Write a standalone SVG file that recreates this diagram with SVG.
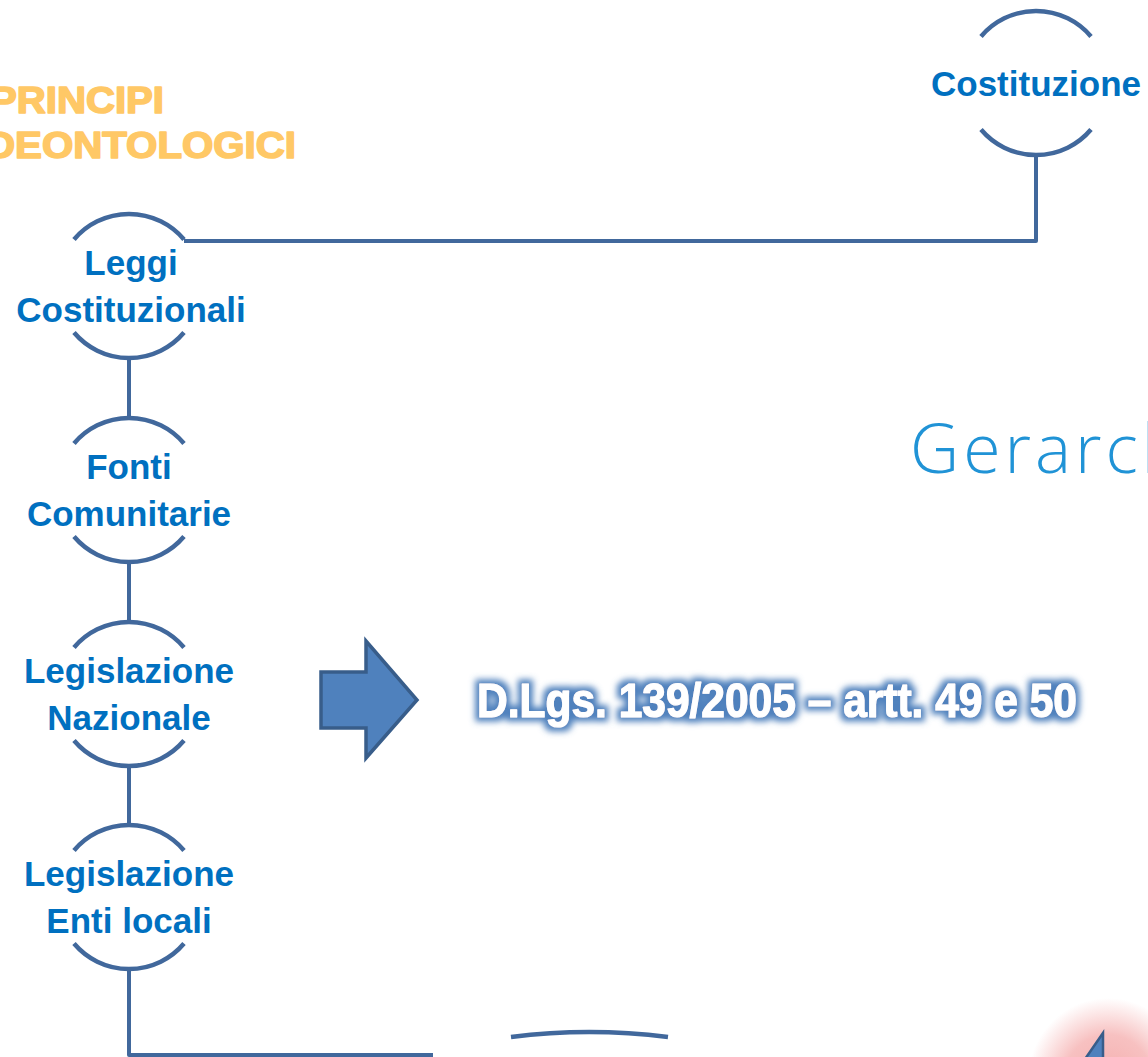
<svg xmlns="http://www.w3.org/2000/svg" width="1148" height="1057" viewBox="0 0 1148 1057">
<defs>
<style>
.arc{fill:none;stroke:#41689C;stroke-width:4.5;stroke-linecap:butt}
.conn{fill:none;stroke:#41689C;stroke-width:4;stroke-linejoin:round}
.lbl{font-family:"Liberation Sans",Arial,sans-serif;font-weight:bold;font-size:35px;fill:#0070C0;text-anchor:middle}
.title{font-family:"Liberation Sans",Arial,sans-serif;font-weight:bold;font-size:36px;fill:#FFC866;stroke:#FFC866;stroke-width:1.6;stroke-linejoin:round}
</style>
<filter id="glow" x="-5%" y="-60%" width="110%" height="220%">
<feMorphology in="SourceAlpha" operator="dilate" radius="3.5" result="d"/>
<feGaussianBlur in="d" stdDeviation="3" result="b"/>
<feFlood flood-color="#4F81BD"/>
<feComposite in2="b" operator="in" result="g"/>
<feMerge><feMergeNode in="g"/><feMergeNode in="SourceGraphic"/></feMerge>
</filter>
<radialGradient id="pink" cx="0.5" cy="0.5" r="0.5">
<stop offset="0" stop-color="#F29A9A" stop-opacity="0.8"/>
<stop offset="0.55" stop-color="#F4A6A6" stop-opacity="0.7"/>
<stop offset="1" stop-color="#F4A6A6" stop-opacity="0"/>
</radialGradient>
</defs>
<rect width="1148" height="1057" fill="#FFFFFF"/>

<g id="title">
<text class="title" x="-10" y="113" textLength="174" lengthAdjust="spacingAndGlyphs">PRINCIPI</text>
<text class="title" x="-14" y="158" textLength="310" lengthAdjust="spacingAndGlyphs">DEONTOLOGICI</text>
</g>

<g id="heading">
<text x="910" y="473" font-family="'Open Sans',Lato,sans-serif" font-weight="300" font-size="68" letter-spacing="4" fill="#2093D6">Gerarch</text>
</g>

<g id="connectors">
<path class="conn" d="M1036,155 V241 H184"/>
<path class="conn" d="M129,358 V418"/>
<path class="conn" d="M129,562 V622"/>
<path class="conn" d="M129,766 V825"/>
<path class="conn" d="M129,969 V1055 H433"/>
</g>

<g id="costituzione">
<path class="arc" d="M981,36.5 A72,72 0 0 1 1091,36.5"/>
<path class="arc" d="M981,129.5 A72,72 0 0 0 1091,129.5"/>
<text class="lbl" x="1036" y="96">Costituzione</text>
</g>

<g id="leggi-costituzionali">
<path class="arc" d="M74,239.5 A72,72 0 0 1 184,239.5"/>
<path class="arc" d="M74,332.5 A72,72 0 0 0 184,332.5"/>
<text class="lbl" x="131" y="275">Leggi</text>
<text class="lbl" x="131" y="322">Costituzionali</text>
</g>

<g id="fonti-comunitarie">
<path class="arc" d="M74,443.5 A72,72 0 0 1 184,443.5"/>
<path class="arc" d="M74,536.5 A72,72 0 0 0 184,536.5"/>
<text class="lbl" x="129" y="479">Fonti</text>
<text class="lbl" x="129" y="526">Comunitarie</text>
</g>

<g id="legislazione-nazionale">
<path class="arc" d="M74,647.5 A72,72 0 0 1 184,647.5"/>
<path class="arc" d="M74,740.5 A72,72 0 0 0 184,740.5"/>
<text class="lbl" x="129" y="683">Legislazione</text>
<text class="lbl" x="129" y="730">Nazionale</text>
</g>

<g id="legislazione-enti-locali">
<path class="arc" d="M74,850.5 A72,72 0 0 1 184,850.5"/>
<path class="arc" d="M74,943.5 A72,72 0 0 0 184,943.5"/>
<text class="lbl" x="129" y="886">Legislazione</text>
<text class="lbl" x="129" y="933">Enti locali</text>
</g>

<g id="arrow">
<polygon points="321,672 366,672 366,641 417,700 366,758 366,728 321,728" fill="#4F81BD" stroke="#385D8A" stroke-width="3.5" stroke-linejoin="miter"/>
</g>

<g id="dlgs">
<text x="477" y="717" font-family="'Liberation Sans',Arial,sans-serif" font-weight="bold" font-size="48" fill="#FFFFFF" stroke="#FFFFFF" stroke-width="1.2" stroke-linejoin="round" textLength="600" lengthAdjust="spacingAndGlyphs" filter="url(#glow)">D.Lgs. 139/2005 – artt. 49 e 50</text>
</g>

<g id="bottom-node">
<path class="arc" d="M511,1037 Q589,1027 668,1037"/>
</g>

<g id="corner">
<ellipse cx="1108" cy="1080" rx="80" ry="82" fill="url(#pink)"/>
<polygon points="1103,1033 1083,1062 1103,1062" fill="#4F81BD" stroke="#385D8A" stroke-width="2.5"/>
</g>
</svg>
